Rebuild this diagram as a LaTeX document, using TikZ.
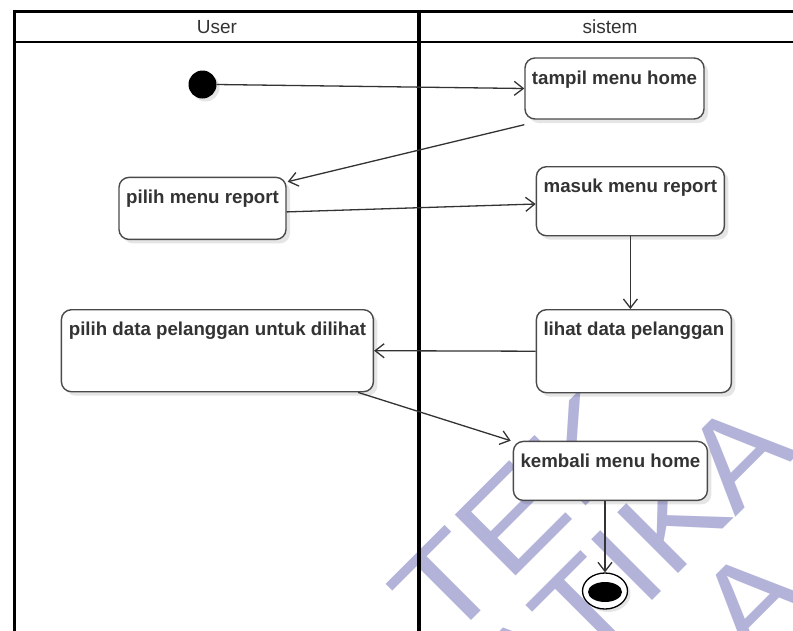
\documentclass[tikz,border=0pt]{standalone}
\usepackage{fontspec}
\setmainfont{Liberation Sans}
\usetikzlibrary{arrows.meta,shadows,shapes.geometric}
\definecolor{boxline}{HTML}{4A4A4A}
\definecolor{txt}{HTML}{333333}
\definecolor{wm}{HTML}{B3B3DA}
\newcommand{\wmstretch}[2][1.1]{\scalebox{#1}[1]{#2}}
\begin{document}
\begin{tikzpicture}[x=1pt,y=-1pt,
  act/.style={draw=boxline, line width=1.4pt, rounded corners=10pt, fill=white,
    anchor=north west, inner xsep=0pt, inner ysep=0pt, text height=26pt,
    font=\fontsize{18.7}{20}\selectfont\bfseries, text=txt,
    drop shadow={shadow xshift=4pt, shadow yshift=-4pt, opacity=0.10, fill=black}},
  flow/.style={draw=txt, line width=1.3pt, -{Straight Barb[length=9pt,width=14pt,line width=1.3pt]}},
  lanehead/.style={font=\fontsize{19}{21}\selectfont, text=txt, inner sep=0pt},
  wmtext/.style={font=\fontsize{125}{125}\selectfont, text=wm, inner sep=0pt, rotate=45, anchor=base west}
]
\useasboundingbox (0,0) rectangle (793,630);
\fill[white] (0,0) rectangle (793,630);
% swimlanes
\draw[line width=3pt] (14.5,11) -- (800,11);
\draw[line width=2.5pt] (14.5,42) -- (800,42);
\draw[line width=3pt] (14.5,9.5) -- (14.5,640);
\draw[line width=4pt] (418.5,9.5) -- (418.5,640);
\node[lanehead] (hu) at (217,27) {User};
\node[lanehead] (hs) at (610,27) {sistem};
% initial and final states
\node[circle, fill=black, minimum size=28pt, inner sep=0pt,
  drop shadow={shadow xshift=3pt, shadow yshift=-3pt, opacity=0.10, fill=black}] (init) at (202.5,84.5) {};
\node[ellipse, draw=black, line width=1.3pt, fill=white, minimum width=45pt, minimum height=36pt, inner sep=0pt,
  drop shadow={shadow xshift=3pt, shadow yshift=-3pt, opacity=0.10, fill=black}] (fin) at (605,591) {};
\node[ellipse, fill=black, minimum width=34pt, minimum height=20pt, inner sep=0pt] (finin) at (605,592) {};
% watermark (beneath the activity boxes)
\begin{scope}[blend mode=multiply]
\clip (0,0) rectangle (793,630);
\node[wmtext] (wa) at (444,648) {\wmstretch[1.18]{TEK}};
\node[wmtext] (wb) at (526.7,726.2) {\wmstretch{ATIKA}};
\node[wmtext] (wc) at (749,664) {\wmstretch{A}};
\end{scope}
% activities
\node[act, minimum width=179pt, text depth=35pt] (tampil) at (524.3,57.3) {tampil menu home};
\node[act, minimum width=167pt, text depth=36pt] (pmr) at (118.3,176.7) {pilih menu report};
\node[act, minimum width=188pt, text depth=43pt] (masuk) at (535.7,166) {masuk menu report};
\node[act, minimum width=195pt, text depth=57pt] (lihat) at (535.7,309) {lihat data pelanggan};
\node[act, minimum width=312pt, text depth=56pt] (pdp) at (60.7,309) {pilih data pelanggan untuk dilihat};
\node[act, minimum width=194pt, text depth=33pt] (kem) at (512.7,440.7) {kembali menu home};
% connectors
\draw[flow] (init.east) -- (tampil.west);
\draw[flow] ([yshift=-5pt]tampil.south west) -- ([yshift=-5pt,xshift=1pt]pmr.north east);
\draw[flow] ([yshift=-3.5pt]pmr.east) -- ([yshift=-2.8pt]masuk.west);
\draw[flow] (masuk.south) -- (masuk.south |- lihat.north);
\draw[flow] (lihat.west) -- (pdp.east);
\draw[flow] ([xshift=-16pt]pdp.south east) -- ([xshift=-2pt]kem.north west);
\draw[flow] (fin.north |- kem.south) -- (fin.north);
\end{tikzpicture}
\end{document}
